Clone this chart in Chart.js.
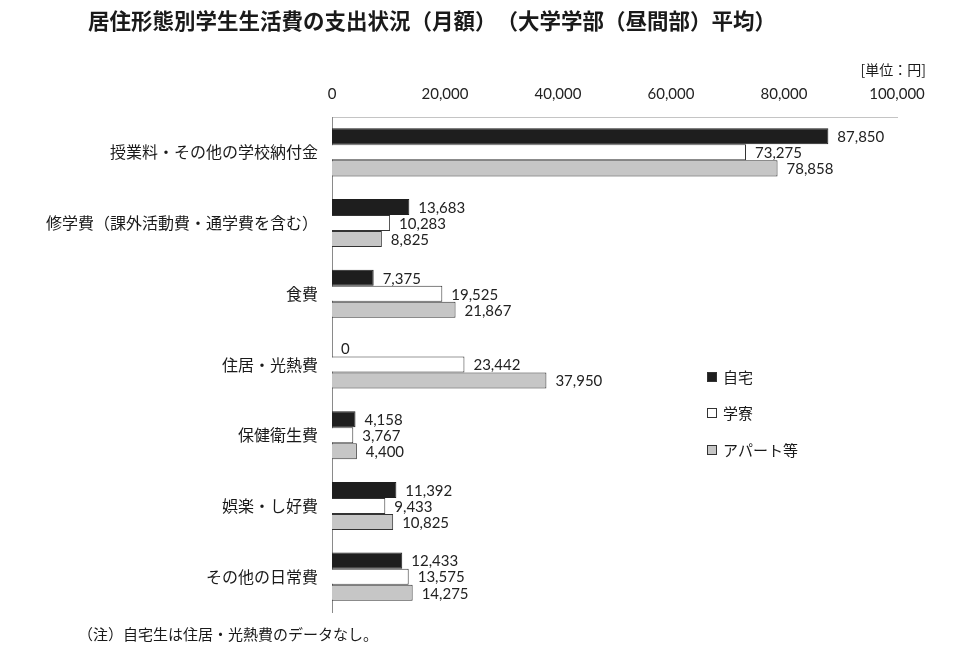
<!DOCTYPE html>
<html lang="ja">
<head>
<meta charset="utf-8">
<title>居住形態別学生生活費の支出状況</title>
<script src="https://cdn.jsdelivr.net/npm/chart.js@4.4.1/dist/chart.umd.min.js"></script>
<style>
  html, body { margin:0; padding:0; background:#fff; }
  #wrap { width:967px; height:661px; position:relative; }
</style>
</head>
<body>
<div id="wrap"><canvas id="chart"></canvas></div>
<script>
// ---------- Data ----------
const categories = [
  '授業料・その他の学校納付金',
  '修学費（課外活動費・通学費を含む）',
  '食費',
  '住居・光熱費',
  '保健衛生費',
  '娯楽・し好費',
  'その他の日常費'
];
const jitaku = [87850, 13683, 7375, 0, 4158, 11392, 12433];   // 自宅
const gakuryo = [73275, 10283, 19525, 23442, 3767, 9433, 13575]; // 学寮
const apart = [78858, 8825, 21867, 37950, 4400, 10825, 14275];   // アパート等
const seriesNames = ['自宅', '学寮', 'アパート等'];
const xTicks = [0, 20000, 40000, 60000, 80000, 100000];

const TITLE = '居住形態別学生生活費の支出状況（月額）　（大学学部（昼間部）平均）';
const UNIT = '[単位：円]';
const NOTE = '（注）自宅生は住居・光熱費のデータなし。';

// ---------- Styles ----------
const JP = '"Noto Sans CJK JP", "Noto Sans", sans-serif';
const NUM = 'Lato, "Open Sans", sans-serif';
const fmtNum = v => Number(v).toLocaleString('en-US');

// value labels right of each bar
const valueLabels = {
  id: 'valueLabels',
  afterDatasetsDraw(chart) {
    const { ctx } = chart;
    ctx.save();
    ctx.font = '15px ' + NUM;
    ctx.fillStyle = '#222';
    ctx.textAlign = 'left';
    ctx.textBaseline = 'middle';
    chart.data.datasets.forEach((ds, i) => {
      chart.getDatasetMeta(i).data.forEach((bar, j) => {
        ctx.fillText(fmtNum(ds.data[j]), bar.x + 9, bar.y + 1);
      });
    });
    ctx.restore();
  }
};

// title, unit, note and legend
const decorations = {
  id: 'decorations',
  afterDraw(chart) {
    const { ctx } = chart;
    ctx.save();
    ctx.fillStyle = '#1a1a1a';
    ctx.textBaseline = 'middle';
    ctx.textAlign = 'left';
    ctx.font = 'bold 21.5px ' + JP;
    ctx.fillText(TITLE, 88, 21);

    ctx.font = '14px ' + JP;
    ctx.textAlign = 'right';
    ctx.fillText(UNIT, 926, 70);

    ctx.textAlign = 'left';
    ctx.font = '15px ' + JP;
    ctx.fillText(NOTE, 78, 634);

    // legend
    const ys = [377, 413, 450];
    chart.data.datasets.forEach((ds, i) => {
      ctx.fillStyle = ds.backgroundColor;
      ctx.fillRect(707, ys[i] - 5, 10, 10);
      ctx.strokeStyle = '#333';
      ctx.lineWidth = 1;
      ctx.strokeRect(707.5, ys[i] - 4.5, 9, 9);
      ctx.fillStyle = '#1a1a1a';
      ctx.font = '15px ' + JP;
      ctx.fillText(ds.label, 723, ys[i]);
    });
    ctx.restore();
  }
};

// ---------- Chart ----------
const barCommon = { borderWidth: 1, categoryPercentage: 0.68, barPercentage: 1.0 };

new Chart(document.getElementById('chart'), {
  type: 'bar',
  data: {
    labels: categories,
    datasets: [
      { ...barCommon, label: seriesNames[0], data: jitaku, backgroundColor: '#1e1e1e', borderColor: '#1e1e1e' },
      { ...barCommon, label: seriesNames[1], data: gakuryo, backgroundColor: '#ffffff', borderColor: '#333333' },
      { ...barCommon, label: seriesNames[2], data: apart, backgroundColor: '#c6c6c6', borderColor: '#333333' }
    ]
  },
  options: {
    indexAxis: 'y',
    responsive: true,
    maintainAspectRatio: false,
    animation: false,
    layout: { padding: { left: 0, right: 70, top: 0, bottom: 49 } },
    plugins: {
      legend: { display: false },
      title: { display: false },
      tooltip: { enabled: false }
    },
    scales: {
      x: {
        position: 'top',
        min: 0,
        max: 100000,
        afterBuildTicks(s) { s.ticks = xTicks.map(v => ({ value: v })); },
        afterFit(s) { s.height = 117; },
        grid: { display: false, drawTicks: false },
        border: { display: true, color: '#c4c4c4', width: 1 },
        ticks: {
          padding: 14,
          maxRotation: 0,
          color: '#222',
          font: { family: NUM, size: 15 },
          callback: v => fmtNum(v)
        }
      },
      y: {
        afterFit(s) { s.width = 332; },
        grid: { display: false, drawTicks: false },
        border: { display: true, color: '#8a8a8a', width: 1 },
        ticks: {
          padding: 14,
          color: '#1a1a1a',
          font: { family: JP, size: 16 }
        }
      }
    }
  },
  plugins: [valueLabels, decorations]
});
</script>
</body>
</html>
